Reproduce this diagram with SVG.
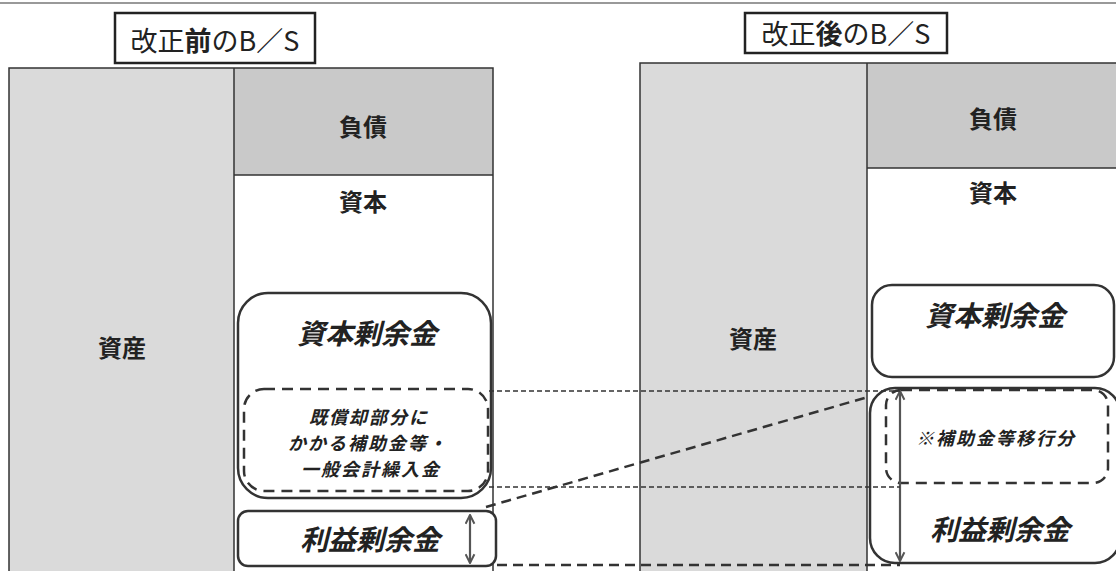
<svg xmlns="http://www.w3.org/2000/svg" width="1116" height="571" viewBox="0 0 1116 571">
<style>
text{font-family:"Noto Sans CJK JP","Noto Sans CJK SC",sans-serif;fill:#222;text-anchor:middle;dominant-baseline:central}
.title{font-size:27px}
.lbl{font-size:24px;font-weight:bold}
.big{font-size:28px;font-weight:bold;font-style:italic}
.small{font-size:18px;font-weight:bold;font-style:italic;letter-spacing:2px}
.frame{fill:none;stroke:#333;stroke-width:1.5}
.asset{fill:#dadada}
.debt{fill:#c9c9c9}
.box{fill:#fff;stroke:#333;stroke-width:2.5}
.dbox{fill:none;stroke:#333;stroke-width:2.5;stroke-dasharray:11 7}
.thin{fill:none;stroke:#333;stroke-width:1.5;stroke-dasharray:5 3}
.long{fill:none;stroke:#333;stroke-width:2.5;stroke-dasharray:10 6}
.arr{fill:none;stroke:#555;stroke-width:2.2;marker-start:url(#ah);marker-end:url(#ah)}
</style>
<defs>
<marker id="ah" viewBox="0 0 10 10" refX="9" refY="5" markerWidth="11" markerHeight="11" orient="auto-start-reverse" markerUnits="userSpaceOnUse">
<path d="M1,1 L9,5 L1,9" fill="none" stroke="#555" stroke-width="1.8"/>
</marker>
</defs>
<rect width="1116" height="571" fill="#fff"/>
<line x1="0" y1="3" x2="1116" y2="3" stroke="#999" stroke-width="2"/>

<g id="title-before">
<rect x="115" y="13" width="200" height="50" fill="#fff" stroke="#222" stroke-width="2.5"/>
<text class="title" x="215" y="39">改正<tspan font-weight="bold">前</tspan>のB／S</text>
</g>
<g id="title-after">
<rect x="745" y="13" width="202" height="40" fill="#fff" stroke="#222" stroke-width="2.5"/>
<text class="title" x="846" y="32">改正<tspan font-weight="bold">後</tspan>のB／S</text>
</g>

<g id="bs-before">
<rect class="asset" x="9" y="68" width="225" height="510"/>
<rect class="debt" x="234" y="68" width="259" height="107"/>
<path class="frame" d="M9,580 V68 H493 V580 M234,68 V580 M234,175 H493"/>
</g>
<g id="asset-before"><text class="lbl" x="122" y="346">資産</text></g>
<g id="debt-before"><text class="lbl" x="363" y="125">負債</text></g>
<g id="capital-before"><text class="lbl" x="363" y="200">資本</text></g>

<g id="bs-after">
<rect class="asset" x="640" y="63" width="227" height="515"/>
<rect class="debt" x="867" y="63" width="260" height="105"/>
<path class="frame" d="M640,580 V63 H1120 M867,63 V580 M867,168 H1120"/>
</g>
<g id="asset-after"><text class="lbl" x="753" y="337">資産</text></g>
<g id="debt-after"><text class="lbl" x="993" y="117">負債</text></g>
<g id="capital-after"><text class="lbl" x="993" y="191">資本</text></g>

<g id="capsurplus-before">
<rect class="box" x="238" y="293" width="253" height="205" rx="30"/>
<text class="big" x="367" y="332">資本剰余金</text>
</g>
<g id="subsidy-before">
<rect class="dbox" x="244" y="389" width="244" height="102" rx="20"/>
<text class="small" x="369" y="416">既償却部分に</text>
<text class="small" x="368" y="442">かかる補助金等・</text>
<text class="small" x="371" y="468">一般会計繰入金</text>
</g>
<g id="retained-before">
<rect class="box" x="238" y="511" width="258" height="55" rx="10"/>
<text class="big" x="370" y="538">利益剰余金</text>
<line class="arr" x1="470" y1="515" x2="470" y2="563"/>
</g>

<g id="capsurplus-after">
<rect class="box" x="872" y="285" width="242" height="92" rx="20"/>
<text class="big" x="995" y="314">資本剰余金</text>
</g>
<g id="retained-after">
<rect class="box" x="870" y="388" width="250" height="175" rx="25"/>
<rect class="dbox" x="886" y="390" width="222" height="93" rx="15"/>
<text class="small" x="996" y="437">※補助金等移行分</text>
<text class="big" x="1000" y="528">利益剰余金</text>
<line class="arr" x1="900" y1="391" x2="900" y2="561"/>
</g>

<g id="connectors">
<line class="thin" x1="489" y1="391" x2="900" y2="391"/>
<line class="thin" x1="489" y1="487" x2="900" y2="487"/>
<line class="long" x1="486" y1="507" x2="868" y2="397"/>
<line class="long" x1="497" y1="565" x2="900" y2="565"/>
</g>
</svg>
